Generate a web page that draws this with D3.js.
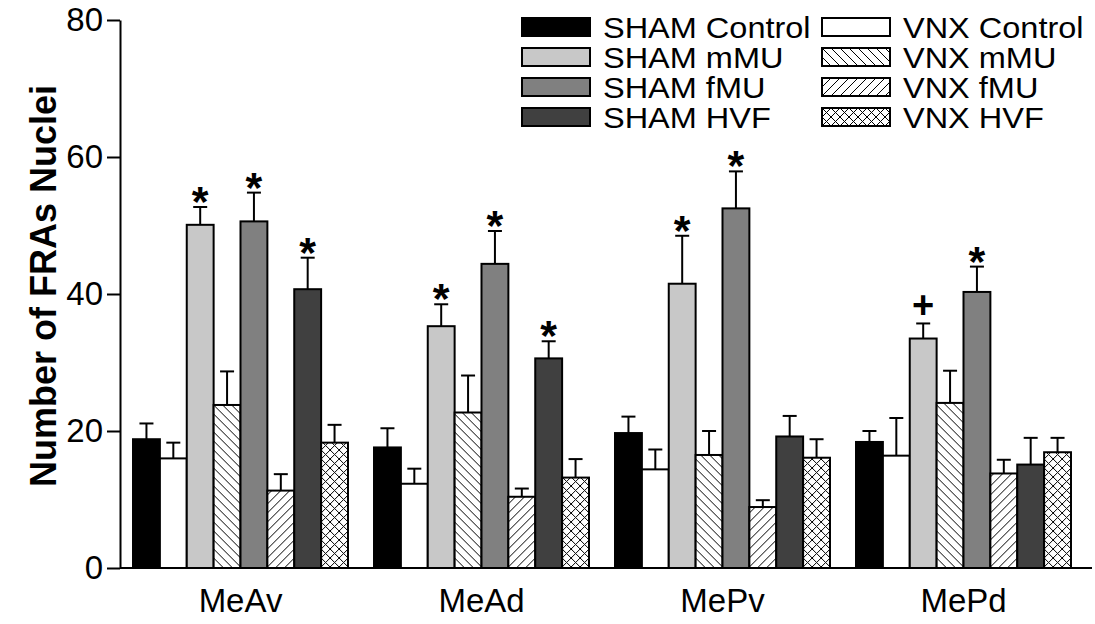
<!DOCTYPE html>
<html>
<head>
<meta charset="utf-8">
<script src="https://cdn.jsdelivr.net/npm/d3@7/dist/d3.min.js"></script>
<style>
  html, body { margin: 0; padding: 0; background: #fff; }
  svg { display: block; font-family: "Liberation Sans", Arial, sans-serif; }
</style>
</head>
<body>
<svg id="chart" width="1095" height="624"></svg>
<script>
// ---- data ----
const regions = ["MeAv", "MeAd", "MePv", "MePd"];
const series = ["SHAM Control", "VNX Control", "SHAM mMU", "VNX mMU", "SHAM fMU", "VNX fMU", "SHAM HVF", "VNX HVF"];
const yTicks = [0, 20, 40, 60, 80];

// means per region, in series order
const meanMeAv = [18.8, 16.0, 50.1, 23.8, 50.6, 11.3, 40.7, 18.3];
const meanMeAd = [17.6, 12.3, 35.3, 22.7, 44.4, 10.4, 30.6, 13.2];
const meanMePv = [19.7, 14.4, 41.5, 16.5, 52.5, 8.9, 19.2, 16.1];
const meanMePd = [18.4, 16.4, 33.5, 24.1, 40.3, 13.8, 15.1, 16.9];

// SEM per region
const semMeAv = [2.3, 2.3, 2.6, 4.9, 4.2, 2.4, 4.6, 2.6];
const semMeAd = [2.8, 2.2, 3.2, 5.4, 4.8, 1.2, 2.5, 2.7];
const semMePv = [2.4, 2.9, 7.0, 3.5, 5.4, 1.0, 3.0, 2.7];
const semMePd = [1.6, 5.5, 2.2, 4.7, 3.7, 2.0, 3.9, 2.1];

// significance markers
const sigMeAv = ["", "", "*", "", "*", "", "*", ""];
const sigMeAd = ["", "", "*", "", "*", "", "*", ""];
const sigMePv = ["", "", "*", "", "*", "", "", ""];
const sigMePd = ["", "", "+", "", "*", "", "", ""];

const means = [meanMeAv, meanMeAd, meanMePv, meanMePd];
const sems = [semMeAv, semMeAd, semMePv, semMePd];
const sigs = [sigMeAv, sigMeAd, sigMePv, sigMePd];

// ---- styles ----
const fills = {
  "SHAM Control": "#000000",
  "VNX Control": "#ffffff",
  "SHAM mMU": "#c8c8c8",
  "VNX mMU": "url(#hatchBack)",
  "SHAM fMU": "#808080",
  "VNX fMU": "url(#hatchFwd)",
  "SHAM HVF": "#404040",
  "VNX HVF": "url(#hatchCross)"
};

const svg = d3.select("#chart");
const defs = svg.append("defs");
function pattern(id, paths) {
  const p = defs.append("pattern").attr("id", id).attr("patternUnits", "userSpaceOnUse")
    .attr("width", 9).attr("height", 9);
  p.append("rect").attr("width", 9).attr("height", 9).attr("fill", "#fff");
  paths.forEach(d => p.append("path").attr("d", d).attr("stroke", "#000").attr("stroke-width", 1).attr("fill", "none"));
}
pattern("hatchBack", ["M-1,-1 L10,10", "M-1,8 L1,10", "M8,-1 L10,1"]);
pattern("hatchFwd", ["M-1,10 L10,-1", "M-1,1 L1,-1", "M8,10 L10,8"]);
pattern("hatchCross", ["M-1,-1 L10,10", "M-1,8 L1,10", "M8,-1 L10,1", "M-1,10 L10,-1", "M-1,1 L1,-1", "M8,10 L10,8"]);

// ---- scales ----
const x = d3.scaleBand().domain(regions).range([120, 1084]).paddingInner(0.108).paddingOuter(0.054);
const xs = d3.scaleBand().domain(series).range([0, x.bandwidth()]).padding(0);
const y = d3.scaleLinear().domain([0, 80]).range([568, 20]);

// ---- bars ----
const data = [];
regions.forEach((r, i) => series.forEach((s, j) => data.push({ r, s, v: means[i][j], e: sems[i][j], sig: sigs[i][j] })));

const g = svg.append("g");
const cells = g.selectAll("g.bar").data(data).join("g").attr("class", "bar")
  .attr("transform", d => `translate(${x(d.r) + xs(d.s)},0)`);

// error bars (upward only)
cells.append("line")
  .attr("x1", xs.bandwidth() / 2).attr("x2", xs.bandwidth() / 2)
  .attr("y1", d => y(d.v)).attr("y2", d => y(d.v + d.e))
  .attr("stroke", "#000").attr("stroke-width", 2);
cells.append("line")
  .attr("x1", xs.bandwidth() / 2 - 7).attr("x2", xs.bandwidth() / 2 + 7)
  .attr("y1", d => y(d.v + d.e)).attr("y2", d => y(d.v + d.e))
  .attr("stroke", "#000").attr("stroke-width", 2);

cells.append("rect")
  .attr("x", 0).attr("width", xs.bandwidth())
  .attr("y", d => y(d.v)).attr("height", d => y(0) - y(d.v))
  .attr("fill", d => fills[d.s]).attr("stroke", "#000").attr("stroke-width", 2);

cells.filter(d => d.sig !== "").append("text")
  .attr("x", xs.bandwidth() / 2)
  .attr("y", d => y(d.v + d.e) + (d.sig === "*" ? 9 : -5))
  .attr("text-anchor", "middle")
  .attr("font-size", d => d.sig === "*" ? 43 : 38)
  .attr("font-weight", "bold")
  .text(d => d.sig);

// ---- axes ----
const yAxis = d3.axisLeft(y).tickValues(yTicks).tickSize(13).tickSizeOuter(0).tickPadding(4);
const ya = svg.append("g").attr("transform", "translate(120,0)").call(yAxis);
ya.select(".domain").attr("stroke-width", 2);
ya.selectAll(".tick line").attr("stroke-width", 2);
ya.selectAll(".tick text").attr("font-size", 33).attr("fill", "#000").attr("font-family", "Liberation Sans, Arial, sans-serif");

const xAxis = d3.axisBottom(x).tickSize(0).tickPadding(21);
const xa = svg.append("g").attr("transform", `translate(0,${y(0)})`).call(xAxis);
xa.select(".domain").remove();
xa.append("line").attr("x1", x.range()[0]).attr("x2", x.range()[1] + 8).attr("y1", 0).attr("y2", 0)
  .attr("stroke", "#000").attr("stroke-width", 2);
xa.selectAll(".tick text").attr("font-size", 33).attr("fill", "#000").attr("font-family", "Liberation Sans, Arial, sans-serif");

svg.append("text")
  .attr("transform", `translate(56,${(y(0) + y(80)) / 2 - 8}) rotate(-90)`)
  .attr("text-anchor", "middle")
  .attr("font-size", 36).attr("font-weight", "bold")
  .text("Number of FRAs Nuclei");

// ---- legend ----
const legendCols = [series.filter(s => s.startsWith("SHAM")), series.filter(s => s.startsWith("VNX"))];
const colX = [522, 822];
legendCols.forEach((col, ci) => {
  const lg = svg.append("g").attr("transform", `translate(${colX[ci]},18)`);
  const items = lg.selectAll("g").data(col).join("g").attr("transform", (d, i) => `translate(0,${i * 30})`);
  items.append("rect").attr("width", 68).attr("height", 18).attr("y", 0)
    .attr("fill", d => fills[d]).attr("stroke", "#000").attr("stroke-width", 2);
  items.append("text").attr("x", 81).attr("y", 20).attr("font-size", 29).text(d => d)
    .each(function () {
      const w = this.getComputedTextLength();
      d3.select(this).attr("textLength", w * 1.12).attr("lengthAdjust", "spacingAndGlyphs");
    });
});
</script>
</body>
</html>
